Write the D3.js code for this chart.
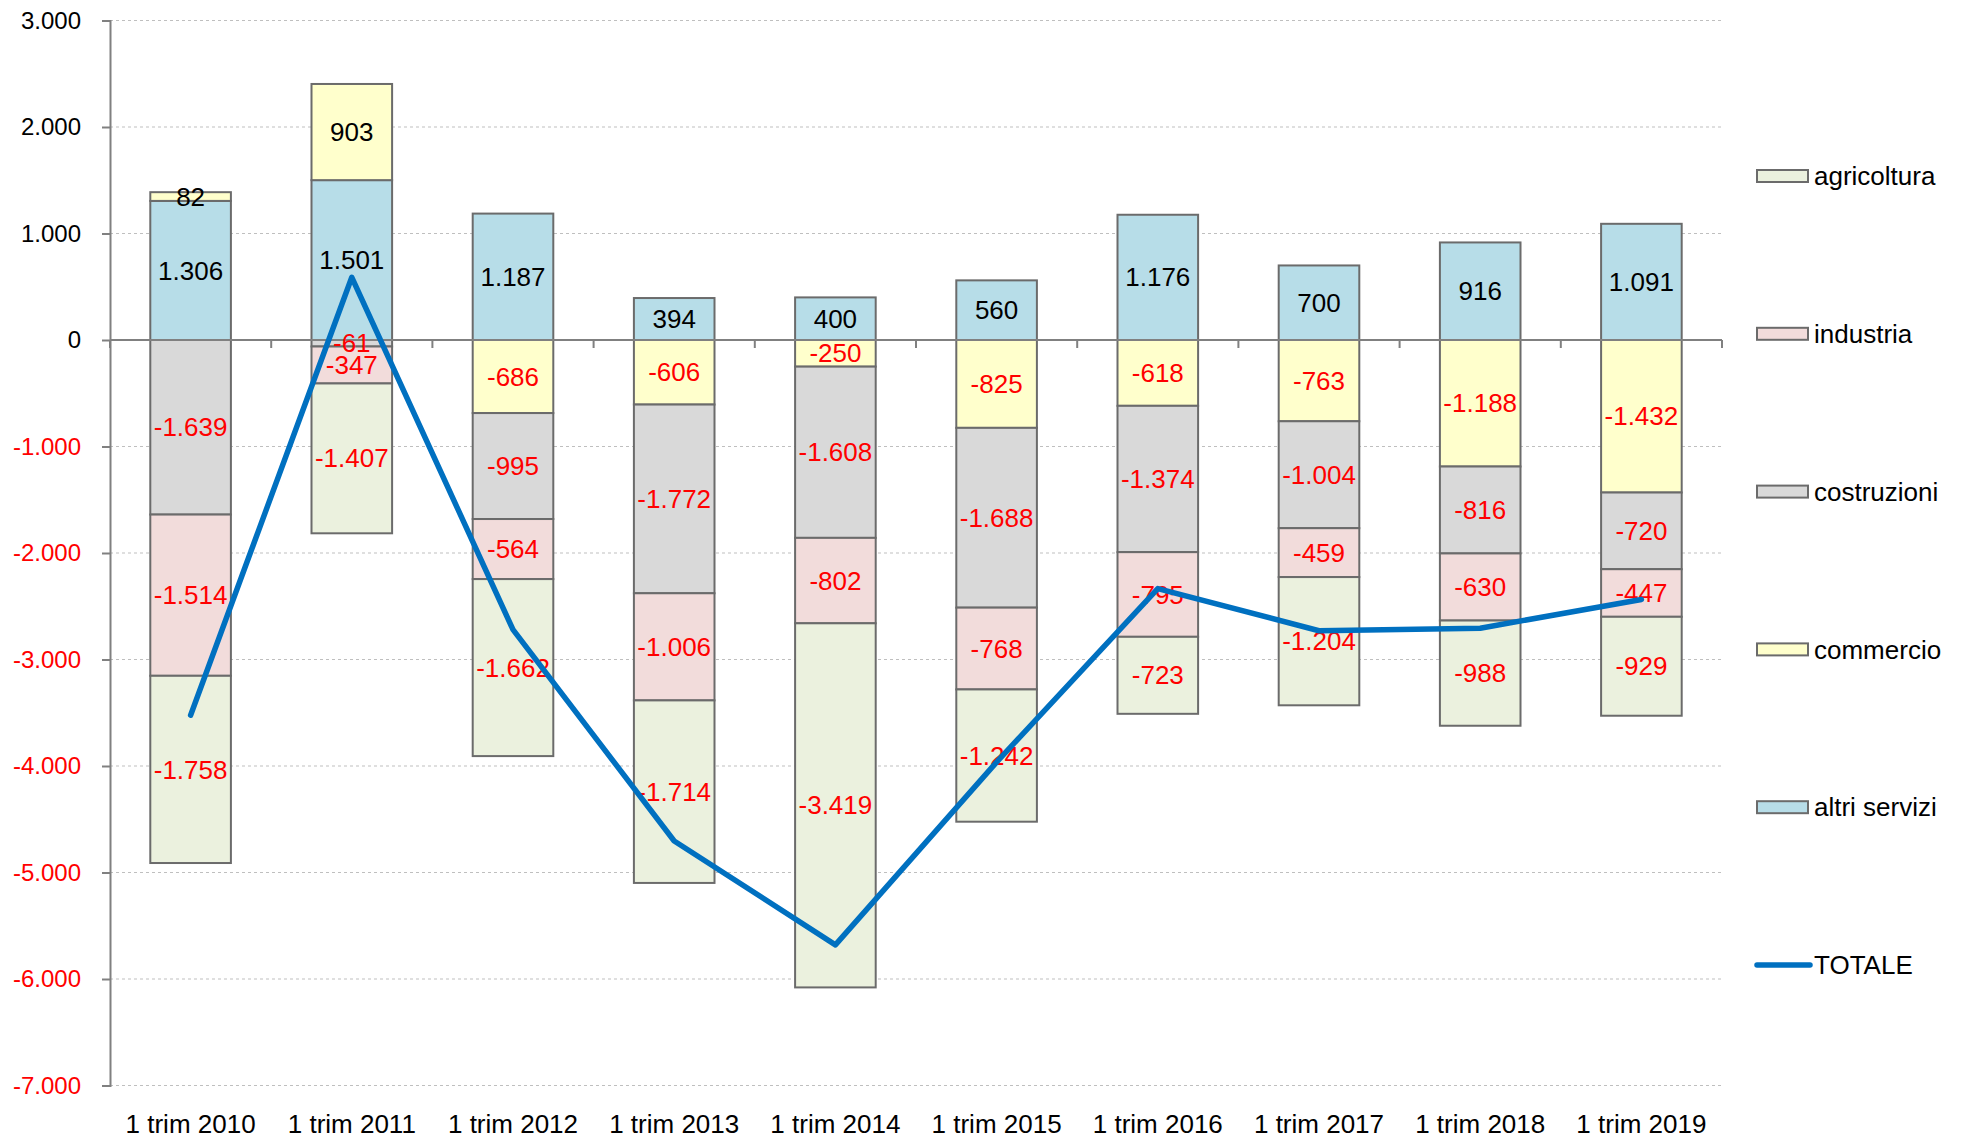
<!DOCTYPE html>
<html><head><meta charset="utf-8">
<script src="https://cdn.jsdelivr.net/npm/d3@7/dist/d3.min.js"></script>
<style>body{margin:0;background:#fff}svg{display:block;font-family:"Liberation Sans",Arial,sans-serif}</style>
</head><body>
<svg id="c" width="1964" height="1141"></svg>
<script>
const categories = ["1 trim 2010","1 trim 2011","1 trim 2012","1 trim 2013","1 trim 2014","1 trim 2015","1 trim 2016","1 trim 2017","1 trim 2018","1 trim 2019"];
const altriServizi = [1306,1501,1187,394,400,560,1176,700,916,1091];
const commercio   = [82,903,-686,-606,-250,-825,-618,-763,-1188,-1432];
const costruzioni = [-1639,-61,-995,-1772,-1608,-1688,-1374,-1004,-816,-720];
const industria   = [-1514,-347,-564,-1006,-802,-768,-795,-459,-630,-447];
const agricoltura = [-1758,-1407,-1662,-1714,-3419,-1242,-723,-1204,-988,-929];
const totale      = [-3523,589,-2720,-4704,-5679,-3963,-2334,-2730,-2706,-2437];
const yTicks = [3000,2000,1000,0,-1000,-2000,-3000,-4000,-5000,-6000,-7000];

const series = [
  {name:"altri servizi", values:altriServizi, color:"#B7DDE8"},
  {name:"commercio", values:commercio, color:"#FFFFCC"},
  {name:"costruzioni", values:costruzioni, color:"#D9D9D9"},
  {name:"industria", values:industria, color:"#F2DCDB"},
  {name:"agricoltura", values:agricoltura, color:"#EBF1DE"}
];

const svg = d3.select("#c");
const pLeft = 110, pRight = 1722, pTop = 20.5, pBottom = 1085.5;
const x = d3.scaleBand().domain(categories).range([pLeft, pRight]).paddingInner(0.5).paddingOuter(0.25);
const y = d3.scaleLinear().domain([-7000, 3000]).range([pBottom, pTop]);
const fmt = v => d3.format(",")(v).replace(/,/g, ".").replace(/\u2212/g, "-");

// gridlines
svg.append("g").selectAll("line").data(yTicks.filter(d => d !== 0)).join("line")
  .attr("x1", pLeft).attr("x2", pRight).attr("y1", d => y(d)).attr("y2", d => y(d))
  .attr("stroke", "#BFBFBF").attr("stroke-width", 1).attr("stroke-dasharray", "3,3");

// y axis
const yAxis = svg.append("g").attr("transform", `translate(${pLeft},0)`)
  .call(d3.axisLeft(y).tickValues(yTicks).tickSize(8).tickPadding(21).tickFormat(fmt));
yAxis.select(".domain").attr("stroke", "#808080").attr("stroke-width", 2);
yAxis.selectAll(".tick line").attr("stroke", "#808080").attr("stroke-width", 2);
yAxis.selectAll(".tick text").attr("font-size", 24).attr("font-family", "Liberation Sans, Arial, sans-serif")
  .attr("fill", d => d < 0 ? "#FF0000" : "#000");

// stacked bars
const stacks = categories.map((c, i) => {
  let pos = 0, neg = 0;
  return series.map(s => {
    const v = s.values[i];
    let y0, y1;
    if (v >= 0) { y0 = pos; y1 = pos + v; pos = y1; } else { y0 = neg; y1 = neg + v; neg = y1; }
    return {cat: c, v, y0, y1, color: s.color};
  });
});
const segs = stacks.flat();
svg.append("g").selectAll("rect").data(segs).join("rect")
  .attr("x", d => x(d.cat)).attr("width", x.bandwidth())
  .attr("y", d => y(Math.max(d.y0, d.y1))).attr("height", d => Math.abs(y(d.y0) - y(d.y1)))
  .attr("fill", d => d.color).attr("stroke", "#6B6B6B").attr("stroke-width", 2);

// zero axis line and category ticks
svg.append("line").attr("x1", pLeft).attr("x2", pRight).attr("y1", y(0)).attr("y2", y(0))
  .attr("stroke", "#808080").attr("stroke-width", 2);
const bounds = d3.range(categories.length + 1).map(i => pLeft + i * x.step());
svg.append("g").selectAll("line").data(bounds).join("line")
  .attr("x1", d => d).attr("x2", d => d).attr("y1", y(0)).attr("y2", y(0) + 8)
  .attr("stroke", "#808080").attr("stroke-width", 2);

// data labels
svg.append("g").selectAll("text").data(segs).join("text")
  .attr("x", d => x(d.cat) + x.bandwidth() / 2)
  .attr("y", d => y((d.y0 + d.y1) / 2))
  .attr("dy", "0.35em").attr("text-anchor", "middle").attr("font-size", 26)
  .attr("fill", d => d.v < 0 ? "#FF0000" : "#000").text(d => fmt(d.v));

// total line
const line = d3.line().x((d, i) => x(categories[i]) + x.bandwidth() / 2).y(d => y(d));
svg.append("path").datum(totale).attr("d", line).attr("fill", "none")
  .attr("stroke", "#0070C0").attr("stroke-width", 5.5).attr("stroke-linecap", "round").attr("stroke-linejoin", "round");

// category labels
svg.append("g").selectAll("text").data(categories).join("text")
  .attr("x", d => x(d) + x.bandwidth() / 2).attr("y", 1133)
  .attr("text-anchor", "middle").attr("font-size", 26).attr("fill", "#000").text(d => d);

// legend
const legendItems = [
  {name:"agricoltura", color:"#EBF1DE"},
  {name:"industria", color:"#F2DCDB"},
  {name:"costruzioni", color:"#D9D9D9"},
  {name:"commercio", color:"#FFFFCC"},
  {name:"altri servizi", color:"#B7DDE8"},
  {name:"TOTALE", line:true}
];
const lg = svg.append("g").selectAll("g").data(legendItems).join("g")
  .attr("transform", (d, i) => `translate(0,${176 + i * 157.8})`);
lg.filter(d => !d.line).append("rect").attr("x", 1757).attr("y", -6).attr("width", 51).attr("height", 12)
  .attr("fill", d => d.color).attr("stroke", "#6B6B6B").attr("stroke-width", 2);
lg.filter(d => d.line).append("line").attr("x1", 1757).attr("x2", 1810).attr("y1", 0).attr("y2", 0)
  .attr("stroke", "#0070C0").attr("stroke-width", 5.5).attr("stroke-linecap", "round");
lg.append("text").attr("x", 1814).attr("y", 0).attr("dy", "0.35em").attr("font-size", 26).attr("fill", "#000")
  .text(d => d.name);
</script>
</body></html>
